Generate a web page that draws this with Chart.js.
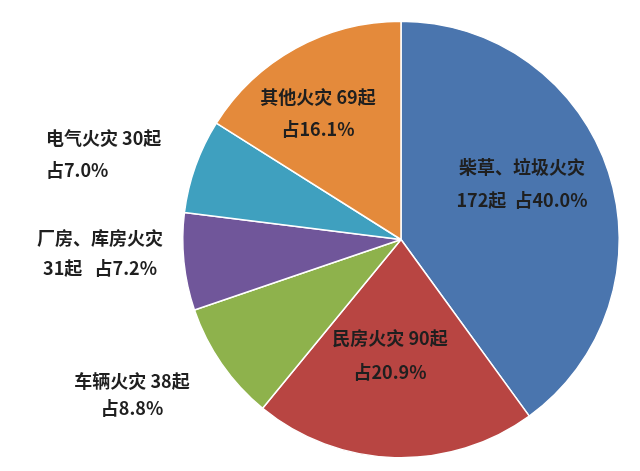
<!DOCTYPE html>
<html lang="zh">
<head>
  <meta charset="UTF-8">
  <title>火灾起数分类</title>
  <script src="https://cdn.jsdelivr.net/npm/chart.js@4.4.0/dist/chart.umd.min.js"></script>
  <style>
    html, body { margin: 0; padding: 0; background: #fff; }
    #wrap { width: 640px; height: 471px; }
  </style>
</head>
<body>
  <div id="wrap"><canvas id="myChart" width="640" height="471"></canvas></div>

  <script>
    const categories = ['柴草、垃圾火灾', '民房火灾', '车辆火灾', '厂房、库房火灾', '电气火灾', '其他火灾'];
    const counts = [172, 90, 38, 31, 30, 69];
    const shares = ['40.0%', '20.9%', '8.8%', '7.2%', '7.0%', '16.1%'];
    const colors = ['#4A75AE', '#B84542', '#8EB24C', '#70569A', '#3FA0BF', '#E48A3B'];

    // label line 1 / line 2 and where to draw them
    const labelLines = [
      [categories[0], counts[0] + '起  占' + shares[0]],
      [categories[1] + ' ' + counts[1] + '起', '占' + shares[1]],
      [categories[2] + ' ' + counts[2] + '起', '占' + shares[2]],
      [categories[3], counts[3] + '起   占' + shares[3]],
      [categories[4] + ' ' + counts[4] + '起', '占' + shares[4]],
      [categories[5] + ' ' + counts[5] + '起', '占' + shares[5]]
    ];
    const labelPos = [
      [522, 167, 200], [390, 338, 372], [132, 381, 408],
      [100, 238, 268], [112, 138, 170], [318, 97, 129]
    ];

    const labelPlugin = {
      id: 'labels',
      afterDraw(chart) {
        const ctx = chart.ctx;
        ctx.save();
        ctx.font = 'bold 18px "Noto Sans CJK SC"';
        ctx.fillStyle = '#1f1f1f';
        ctx.textBaseline = 'middle';
        labelLines.forEach((lines, i) => {
          const p = labelPos[i];
          if (i === 4) {
            ctx.textAlign = 'left';
            ctx.fillText(lines[0], 46, p[1]);
            ctx.fillText(lines[1], 46, p[2]);
          } else {
            ctx.textAlign = 'center';
            ctx.fillText(lines[0], p[0], p[1]);
            ctx.fillText(lines[1], p[0], p[2]);
          }
        });
        ctx.restore();
      }
    };

    new Chart(document.getElementById('myChart').getContext('2d'), {
      type: 'pie',
      data: {
        labels: categories,
        datasets: [{
          data: counts,
          backgroundColor: colors,
          borderColor: '#ffffff',
          borderWidth: 1.5
        }]
      },
      options: {
        responsive: false,
        animation: false,
        layout: { padding: { left: 182, right: 20, top: 20, bottom: 12 } },
        plugins: { legend: { display: false }, tooltip: { enabled: false } }
      },
      plugins: [labelPlugin]
    });
  </script>
</body>
</html>
